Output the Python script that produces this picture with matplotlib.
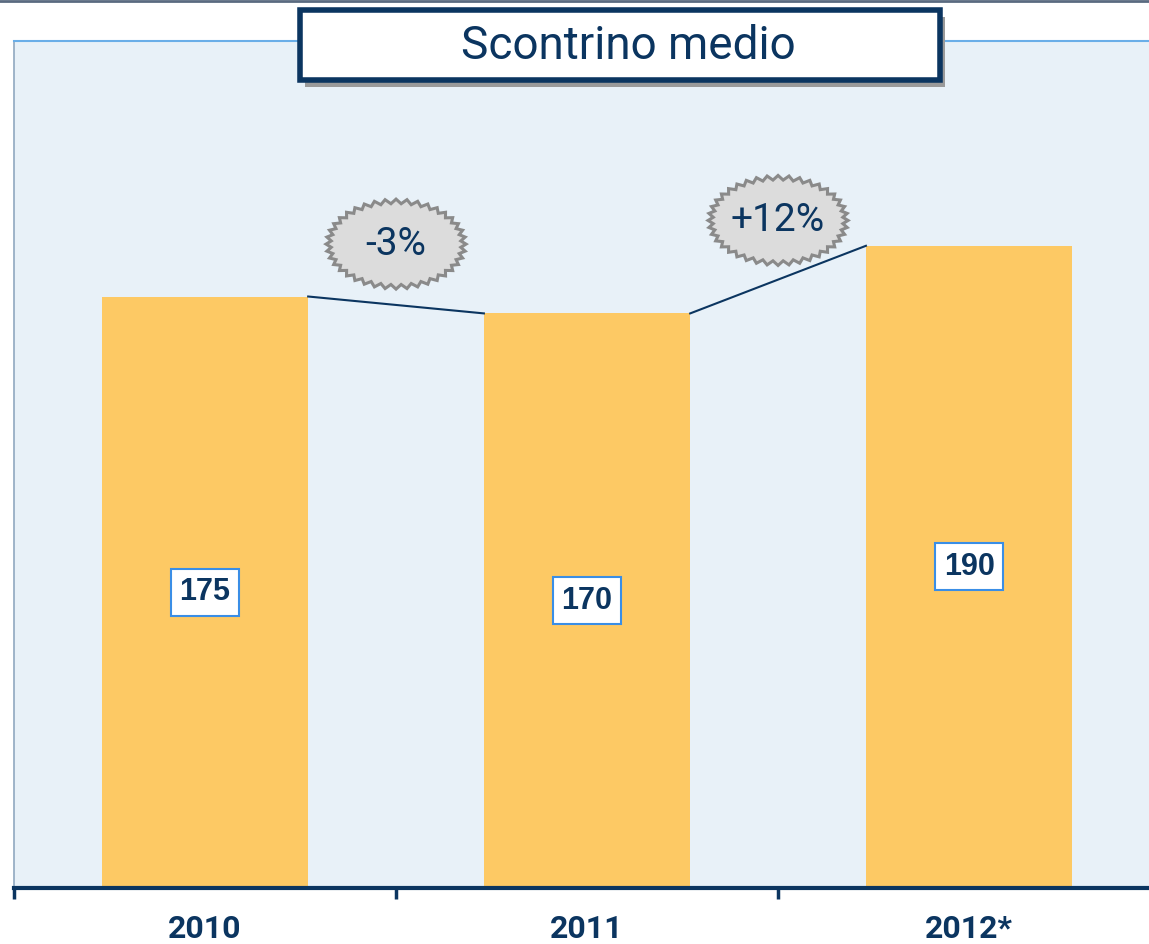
import numpy as np
import matplotlib
matplotlib.use('Agg')
import matplotlib.pyplot as plt
from matplotlib.patches import Rectangle, Polygon
from matplotlib.transforms import ScaledTranslation
from matplotlib.lines import Line2D

# --- dati ---
anni = ['2010', '2011', '2012*']
scontrino = [175, 170, 190]
variazioni = ['-3%', '+12%']

NAVY = '#0b3560'
BAR = '#fdc964'
BG = '#e8f1f8'
NARROW = ['Roboto', 'DejaVu Sans']

fig = plt.figure(figsize=(11.49, 9.44), dpi=100)
ax = fig.add_axes([0.0122, 0.0593, 0.9878, 0.8973])
ax.set_facecolor(BG)

x = np.arange(len(anni))
w = 0.54
ax.bar(x, scontrino, width=w, color=BAR, zorder=2)

# etichette valori dentro le barre
for xi, v in zip(x, scontrino):
    ax.text(xi, v / 2, str(v), ha='center', va='center', fontsize=22,
            fontweight='bold', color=NAVY, family=['Liberation Sans', 'DejaVu Sans'],
            zorder=4,
            bbox=dict(boxstyle='square,pad=0.28', fc='white', ec='#3a8ee6', lw=1.5))

# linee di collegamento tra le barre
for i in range(len(anni) - 1):
    ax.plot([x[i] + w / 2, x[i + 1] - w / 2], [scontrino[i], scontrino[i + 1]],
            color=NAVY, lw=1.5, zorder=3)


# "stelle" con la variazione percentuale
def starburst(xc, yc, label):
    n = 40
    t = np.linspace(0, 2 * np.pi, 2 * n, endpoint=False)
    a = np.where(np.arange(2 * n) % 2 == 0, 0.70, 0.65)
    b = np.where(np.arange(2 * n) % 2 == 0, 0.45, 0.405)
    verts = np.column_stack([a * np.cos(t), b * np.sin(t)])
    tr = fig.dpi_scale_trans + ScaledTranslation(xc, yc, ax.transData)
    ax.add_patch(Polygon(verts, closed=True, transform=tr, fc='#dcdcdc',
                         ec='#8a8a8a', lw=2.2, zorder=5))
    ax.text(xc, yc, label, transform=ax.transData, ha='center', va='center',
            fontsize=28, color=NAVY, family=NARROW, zorder=6)


badge_y = [190.5, 197.5]
for i, lab in enumerate(variazioni):
    starburst(x[i] + 0.5, badge_y[i], lab)

# assi
ax.spines['right'].set_visible(False)
ax.spines['bottom'].set_color(NAVY)
ax.spines['bottom'].set_linewidth(3)
ax.spines['top'].set_color('#6aaee8')
ax.spines['top'].set_linewidth(1.5)
ax.spines['left'].set_color('#90a8c0')
ax.spines['left'].set_linewidth(1.2)
ax.set_yticks([])
ax.set_xticks(x)
ax.set_xticklabels(anni, fontsize=23, fontweight='bold', color=NAVY, family=NARROW)
ax.set_xticks([-0.5, 0.5, 1.5, 2.5], minor=True)
ax.tick_params(axis='x', which='major', length=0, pad=19)
ax.tick_params(axis='x', which='minor', length=8, width=2.5, color=NAVY, direction='out')
ax.set_xlim(-0.5, 2.471)
ax.set_ylim(0, 250.6)

# titolo in riquadro con ombra
fig.add_artist(Rectangle((305 / 1149, 1 - 87 / 944), 640 / 1149, 70 / 944,
                         transform=fig.transFigure, fc='#9a9a9a', ec='none', zorder=10))
fig.add_artist(Rectangle((300 / 1149, 1 - 80 / 944), 640 / 1149, 70 / 944,
                         transform=fig.transFigure, fc='white', ec=NAVY, lw=4, zorder=11))
fig.text(628 / 1149, 1 - 46 / 944, 'Scontrino medio', ha='center', va='center',
         fontsize=33, color=NAVY, family=NARROW, zorder=12)

fig.add_artist(Line2D([0, 1], [0.9985, 0.9985], transform=fig.transFigure,
                      color='#5a6a80', lw=2))

fig.savefig('out.png', dpi=100)
